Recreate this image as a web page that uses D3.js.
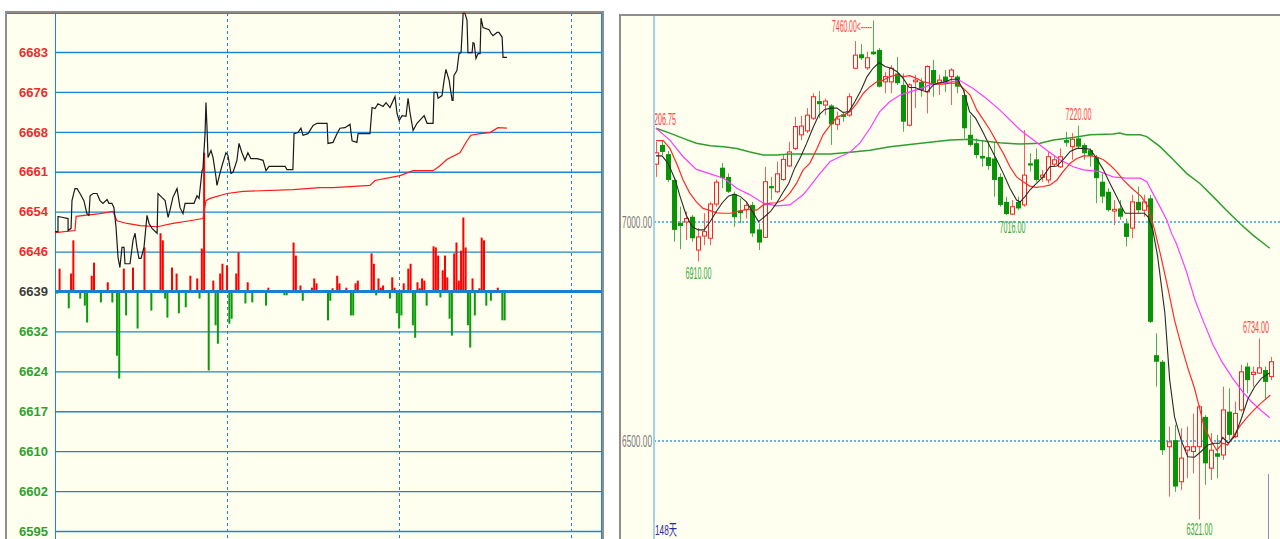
<!DOCTYPE html>
<html>
<head>
<meta charset="utf-8">
<script src="https://cdn.jsdelivr.net/npm/d3@7"></script>
<style>
  body { margin: 0; background: #ffffff; }
  svg { display: block; }
</style>
</head>
<body>
<script>
// -----------------------------
// Data: intraday panel
// -----------------------------

// Price ticks, equal steps around the previous settlement
const intradayTicks = [6683, 6675.67, 6668.33, 6661, 6653.67, 6646.33, 6639, 6631.67, 6624.33, 6617, 6609.67, 6602.33, 6595];
const intradayBase = 6639;
const intradayTimeGrid = [75, 150, 225];

// [minute, price]
const intradayPrice = [
  [0, 6650.0], [1.3, 6650.0], [1.3, 6652.8], [3.5, 6652.6], [5.7, 6652.4], [5.7, 6650.2], [7.0, 6650.6], [7.4, 6655.7],
  [8.7, 6657.9], [9.6, 6657.9], [10.9, 6657.0], [12.6, 6655.7], [13.9, 6653.3], [14.8, 6653.0], [15.3, 6656.6], [16.6, 6657.0],
  [18.3, 6657.0], [19.6, 6655.7], [20.9, 6655.2], [22.7, 6655.9], [23.5, 6655.2], [24.8, 6655.2], [25.7, 6654.4], [26.6, 6650.8],
  [27.5, 6645.2], [28.3, 6643.4], [29.2, 6647.1], [30.1, 6647.1], [30.5, 6644.1], [32.7, 6644.1], [34.0, 6648.4], [34.9, 6649.7],
  [35.7, 6647.1], [36.6, 6645.1], [37.5, 6645.1], [38.8, 6647.1], [40.1, 6653.0], [41.0, 6651.5], [42.3, 6650.6], [44.5, 6649.7],
  [44.9, 6657.0], [46.6, 6656.3], [48.0, 6655.7], [49.3, 6652.6], [50.1, 6653.9], [51.4, 6656.3], [53.2, 6657.9], [54.5, 6654.4],
  [55.8, 6653.3], [56.7, 6655.2], [60.6, 6655.2], [61.9, 6656.6], [62.8, 6656.1], [64.1, 6661.2], [64.5, 6661.6], [65.4, 6668.0],
  [65.8, 6673.7], [66.3, 6668.6], [66.7, 6663.6], [68.0, 6664.9], [68.9, 6663.6], [70.2, 6659.9], [70.6, 6658.5], [71.9, 6660.7],
  [72.8, 6662.1], [74.5, 6664.5], [75.4, 6664.0], [76.7, 6660.7], [77.6, 6660.9], [79.3, 6663.1], [80.2, 6666.2], [81.5, 6664.5],
  [82.8, 6663.1], [84.1, 6664.5], [85.4, 6663.4], [88.1, 6663.4], [90.7, 6663.1], [92.0, 6661.2], [93.3, 6662.0], [100.3, 6662.0],
  [101.1, 6661.4], [103.7, 6661.4], [104.2, 6668.0], [105.9, 6668.2], [107.2, 6669.0], [108.1, 6667.7], [110.3, 6668.0], [112.5, 6669.5],
  [114.2, 6669.9], [118.6, 6669.9], [119.0, 6666.2], [121.2, 6666.4], [122.9, 6668.0], [124.2, 6669.0], [126.4, 6669.1], [128.6, 6669.7],
  [129.5, 6666.7], [131.6, 6666.4], [132.1, 6668.0], [137.3, 6668.0], [138.2, 6672.8], [139.5, 6672.6], [140.8, 6673.5], [143.0, 6673.0],
  [144.3, 6673.7], [146.0, 6672.8], [148.2, 6674.8], [149.1, 6671.7], [150.0, 6670.4], [151.3, 6671.3], [153.0, 6671.2], [153.9, 6674.5],
  [154.8, 6671.7], [156.1, 6668.6], [157.8, 6669.9], [160.9, 6671.3], [162.2, 6669.9], [164.8, 6669.9], [165.2, 6675.6], [166.5, 6675.6],
  [167.0, 6674.5], [168.7, 6675.0], [169.6, 6677.8], [170.4, 6679.8], [171.8, 6677.8], [173.1, 6674.1], [173.5, 6674.1], [173.9, 6678.7],
  [175.2, 6679.6], [176.1, 6682.7], [177.0, 6682.9], [177.9, 6690.1], [178.7, 6690.1], [179.6, 6688.8], [180.0, 6682.9], [181.8, 6682.9],
  [182.2, 6684.7], [182.7, 6684.6], [183.5, 6681.8], [184.4, 6682.7], [185.3, 6682.7], [185.7, 6689.2], [186.6, 6687.5], [189.2, 6687.1],
  [190.1, 6686.4], [190.9, 6686.0], [192.7, 6686.6], [193.5, 6686.6], [194.9, 6685.7], [195.3, 6682.0], [197.0, 6682.0]
];

// [minute, average price]
const intradayAverage = [
  [0, 6649.8], [8.7, 6650.2], [9.2, 6652.8], [19.6, 6653.3], [25.3, 6653.7], [27.0, 6652.0], [31.4, 6651.5], [37.1, 6651.1],
  [44.5, 6650.9], [51.4, 6651.5], [58.8, 6652.0], [64.5, 6652.4], [65.8, 6655.7], [67.6, 6656.1], [75.0, 6657.0], [82.0, 6657.4],
  [103.7, 6657.7], [115.5, 6658.1], [121.2, 6658.1], [137.3, 6658.5], [139.5, 6659.4], [150.4, 6660.3], [156.1, 6661.2], [164.8, 6661.2],
  [167.8, 6662.1], [170.9, 6663.3], [176.5, 6664.5], [179.6, 6666.7], [181.3, 6667.7], [185.3, 6668.0], [189.6, 6668.2], [193.1, 6669.1],
  [197.0, 6669.0]
];

// [minute, change from base line]
const intradayBars = [
  [2, 4.2], [7, 3.3], [8, 9.4], [16, 2.9], [17, 5.3], [23, 1.7], [30, 4.2], [34, 4.4], [39, 8.1], [46, 10.7], [47, 9.4],
  [51, 4.4], [53, 3.3], [59, 2.9], [62, 2.4], [64, 7.9], [65, 25.5], [69, 2.0], [72, 3.3], [73, 5.1], [75, 4.8], [79, 3.3],
  [80, 7.2], [84, 1.7], [93, 0.7], [104, 9.0], [105, 6.6], [107, 1.1], [112, 0.7], [113, 2.4], [114, 1.5], [121, 0.6],
  [123, 2.9], [124, 1.5], [127, 0.7], [131, 1.5], [132, 2.0], [138, 7.0], [139, 5.1], [141, 2.4], [142, 0.7], [143, 1.1],
  [147, 2.6], [148, 0.7], [152, 1.5], [154, 4.2], [155, 5.1], [158, 1.7], [159, 0.6], [160, 2.4], [161, 2.0], [165, 8.3],
  [166, 8.1], [167, 6.6], [169, 3.9], [170, 6.6], [171, 2.6], [174, 7.0], [175, 9.0], [176, 2.0], [177, 7.5], [178, 13.6],
  [179, 8.1], [182, 2.4], [185, 0.6], [186, 9.9], [187, 9.4], [193, 0.7],
  [1, -0.4], [6, -3.1], [11, -1.3], [13, -2.6], [14, -5.7], [20, -2.0], [25, -2.0], [27, -11.8], [28, -16.0], [31, -4.4],
  [36, -6.8], [42, -3.5], [48, -1.3], [49, -4.8], [54, -4.0], [57, -2.9], [63, -1.3], [67, -14.5], [70, -6.2], [71, -9.6],
  [76, -5.9], [77, -5.0], [83, -2.2], [86, -2.0], [92, -2.6], [100, -0.7], [101, -0.7], [108, -1.7], [119, -5.3], [120, -1.7],
  [129, -4.4], [130, -4.4], [140, -0.7], [146, -1.3], [149, -4.0], [150, -6.8], [151, -4.4], [156, -6.2], [157, -8.5],
  [162, -2.6], [168, -1.1], [172, -5.0], [173, -8.1], [180, -6.2], [181, -10.3], [183, -4.4], [188, -2.6], [190, -1.7],
  [195, -5.3], [196, -5.3]
];

// -----------------------------
// Data: daily panel
// -----------------------------

// [open, high, low, close]
const dailyCandles = [
  [7132, 7183, 7103, 7158], [7176, 7187, 7153, 7160], [7155, 7162, 7091, 7096], [7096, 7100, 6955, 6982],
  [6998, 7035, 6938, 6991], [7000, 7024, 6959, 7008], [7012, 7016, 6955, 6963], [6936, 6986, 6910, 6966],
  [6968, 7020, 6947, 6978], [6963, 7046, 6947, 7041], [7041, 7097, 7035, 7091], [7124, 7135, 7077, 7100],
  [7103, 7111, 7066, 7069], [7064, 7069, 6989, 7011], [7026, 7054, 6997, 7020], [7029, 7046, 7008, 7038],
  [7039, 7046, 6966, 6974], [6983, 6997, 6936, 6953], [6965, 7126, 6963, 7092], [7082, 7103, 7050, 7077],
  [7069, 7138, 7066, 7110], [7097, 7153, 7094, 7143], [7128, 7183, 7126, 7160], [7168, 7240, 7164, 7218],
  [7199, 7242, 7187, 7219], [7208, 7260, 7203, 7244], [7237, 7294, 7233, 7286], [7276, 7299, 7237, 7269],
  [7267, 7282, 7244, 7276], [7266, 7269, 7176, 7223], [7223, 7252, 7210, 7235], [7246, 7252, 7229, 7240],
  [7244, 7294, 7240, 7286], [7351, 7413, 7349, 7381], [7383, 7406, 7370, 7374], [7352, 7389, 7347, 7375],
  [7389, 7460, 7381, 7383], [7393, 7397, 7307, 7309], [7320, 7343, 7294, 7332], [7320, 7358, 7294, 7351],
  [7339, 7377, 7313, 7317], [7313, 7339, 7206, 7229], [7221, 7317, 7218, 7313], [7320, 7336, 7260, 7324],
  [7320, 7328, 7286, 7301], [7297, 7358, 7248, 7355], [7347, 7370, 7286, 7313], [7317, 7336, 7290, 7324],
  [7332, 7347, 7297, 7317], [7332, 7351, 7267, 7347], [7332, 7336, 7294, 7309], [7290, 7301, 7191, 7214],
  [7199, 7244, 7172, 7176], [7180, 7191, 7145, 7153], [7151, 7187, 7126, 7145], [7148, 7183, 7119, 7128],
  [7145, 7183, 7058, 7096], [7103, 7111, 7035, 7039], [7046, 7058, 7016, 7018], [7018, 7050, 7016, 7035],
  [7046, 7058, 7027, 7031], [7039, 7210, 7035, 7107], [7134, 7157, 7115, 7129], [7143, 7168, 7092, 7096],
  [7102, 7119, 7092, 7107], [7096, 7160, 7088, 7149], [7132, 7153, 7126, 7142], [7126, 7168, 7123, 7149],
  [7187, 7206, 7172, 7181], [7172, 7203, 7142, 7189], [7191, 7220, 7168, 7172], [7176, 7180, 7142, 7157],
  [7164, 7168, 7126, 7151], [7148, 7153, 7043, 7100], [7092, 7111, 7043, 7058], [7069, 7077, 7024, 7027],
  [7025, 7050, 6993, 7029], [7031, 7050, 7005, 7012], [6997, 7008, 6944, 6966], [6986, 7062, 6963, 7046],
  [7046, 7081, 7020, 7027], [7027, 7062, 7012, 7046], [7054, 7062, 6769, 6772], [6696, 6746, 6624, 6681],
  [6681, 6685, 6468, 6479], [6487, 6533, 6373, 6498], [6502, 6537, 6384, 6396], [6407, 6529, 6388, 6461],
  [6479, 6533, 6415, 6487], [6476, 6563, 6426, 6487], [6487, 6582, 6321, 6578], [6555, 6559, 6400, 6449],
  [6438, 6518, 6411, 6479], [6472, 6514, 6415, 6464], [6468, 6624, 6457, 6571], [6567, 6620, 6502, 6514],
  [6510, 6590, 6506, 6563], [6571, 6674, 6567, 6658], [6670, 6679, 6609, 6639], [6652, 6670, 6624, 6657],
  [6655, 6734, 6653, 6667], [6662, 6670, 6594, 6635], [6647, 6692, 6639, 6681]
];

// Moving averages: [bar index, value]
const ma5 = [
  [0, 7151], [1, 7151], [2, 7134], [3.2, 7096], [4, 7058], [5, 7016], [6, 6989], [7, 6982], [8, 6982], [9, 7001],
  [10, 7024], [11, 7044], [12, 7059], [13, 7064], [14, 7058], [15, 7046], [16, 7024], [17, 7001], [18, 7012], [19, 7024],
  [20, 7043], [21, 7066], [22, 7088], [23, 7123], [24, 7149], [25, 7180], [26, 7214], [27, 7244], [28, 7257], [29, 7260],
  [30, 7260], [31, 7250], [32, 7252], [33, 7275], [34, 7301], [35, 7332], [36, 7351], [37, 7364], [38, 7355], [39, 7351],
  [40, 7343], [41, 7328], [42, 7307], [43, 7307], [44, 7301], [45, 7297], [46, 7313], [47, 7318], [48, 7320], [49, 7326],
  [50, 7326], [51, 7301], [52, 7252], [53, 7237], [54.3, 7203], [55.4, 7172], [56.5, 7142], [57.6, 7111], [58.7, 7077],
  [59.8, 7050], [60.4, 7046], [61.2, 7058], [62, 7073], [63.1, 7088], [64.2, 7103], [65.3, 7126], [66.5, 7128], [67.5, 7142],
  [68.7, 7161], [69.8, 7168], [70.9, 7168], [72, 7166], [73.1, 7145], [74.2, 7119], [75.3, 7088], [76.4, 7058], [77.2, 7035],
  [77.8, 7020], [79.4, 7020], [81, 7020], [81.6, 7012], [82.4, 6982], [83.2, 6921], [84.4, 6792], [85.2, 6639], [86, 6555],
  [87.1, 6502], [88.2, 6464], [89.3, 6463], [90.4, 6476], [91.5, 6491], [92.6, 6495], [93.5, 6495], [94, 6508], [94.9, 6495],
  [96, 6511], [97.1, 6552], [98.2, 6597], [99.3, 6624], [100.4, 6643], [101.8, 6656]
];
const ma10 = [
  [0, 7186], [1.2, 7186], [2.3, 7168], [3.4, 7134], [4.5, 7096], [5.6, 7066], [6.7, 7046], [7.8, 7031], [9, 7026], [10.1, 7021],
  [11.2, 7020], [12.3, 7020], [13.4, 7024], [14.5, 7027], [15.6, 7029], [16.7, 7027], [17.8, 7039], [18.9, 7043], [20, 7044],
  [21.1, 7050], [22.2, 7066], [23.3, 7088], [24.4, 7119], [25.5, 7134], [26.7, 7168], [27.7, 7199], [28.9, 7221], [30, 7240],
  [31.1, 7244], [32.2, 7252], [33.3, 7271], [34.4, 7294], [35.5, 7309], [36.6, 7320], [37.7, 7324], [38.8, 7332], [39.9, 7336],
  [41, 7332], [42.1, 7334], [43.2, 7328], [44.3, 7320], [45.4, 7317], [46.5, 7315], [47.6, 7315], [48.8, 7317], [49.9, 7317],
  [51, 7305], [52.1, 7290], [53.2, 7256], [54.3, 7233], [55.4, 7210], [56.5, 7183], [57.6, 7157], [58.7, 7126], [59.8, 7103],
  [60.9, 7092], [62, 7082], [63.1, 7079], [64.2, 7081], [65.3, 7084], [66.5, 7096], [67.5, 7115], [68.7, 7134], [69.8, 7145],
  [70.9, 7151], [72, 7151], [73.1, 7149], [74.2, 7142], [75.3, 7130], [76.4, 7115], [77.5, 7096], [78.6, 7081], [80.5, 7058],
  [81.6, 7035], [82.7, 6982], [83.8, 6918], [84.9, 6849], [86, 6776], [87.1, 6719], [88.2, 6667], [89.3, 6621], [90.1, 6578],
  [90.9, 6533], [92, 6502], [93, 6479], [94, 6495], [94.8, 6491], [95.9, 6514], [97, 6537], [98.1, 6555], [99.2, 6571],
  [100.3, 6586], [101.9, 6605]
];
const ma20 = [
  [0, 7214], [2.3, 7187], [4.5, 7149], [6.7, 7120], [9, 7110], [11.2, 7100], [13.4, 7077], [15.6, 7062], [17.8, 7043], [20, 7037],
  [22.2, 7039], [24.4, 7062], [25.5, 7081], [27.2, 7111], [28.9, 7138], [30.5, 7149], [32.2, 7160], [33.8, 7180], [35.5, 7214],
  [37.1, 7252], [38.8, 7275], [40.5, 7290], [42.1, 7297], [43.8, 7304], [45.4, 7313], [47.1, 7317], [48.8, 7320], [50.4, 7323],
  [52.6, 7305], [54.8, 7282], [57, 7256], [59.3, 7225], [60.4, 7210], [62.6, 7187], [64.8, 7164], [67, 7142], [69.2, 7126],
  [70.9, 7119], [73.6, 7115], [75.8, 7103], [78, 7100], [80.3, 7100], [81.4, 7092], [83, 7050], [84.7, 7005], [85.5, 6974],
  [86.3, 6951], [87.9, 6890], [89.4, 6822], [90.7, 6776], [92.4, 6719], [93.9, 6680], [95.6, 6644], [97.3, 6612], [98.8, 6589],
  [100.4, 6569], [101.8, 6553]
];
const ma60 = [
  [0, 7214], [2.3, 7203], [4.5, 7191], [6.7, 7180], [9, 7174], [11.2, 7172], [13.4, 7168], [15.6, 7160], [17.8, 7153], [20, 7153],
  [22.2, 7155], [25.5, 7155], [28.9, 7155], [32.2, 7159], [35.5, 7164], [38.8, 7172], [42.1, 7177], [45.4, 7182], [48.8, 7187],
  [52.1, 7189], [53.7, 7186], [57, 7181], [60.4, 7178], [63.7, 7180], [65.9, 7187], [69.2, 7193], [72, 7199], [75.8, 7201],
  [76.9, 7203], [78, 7199], [80.3, 7199], [81.4, 7195], [83.6, 7172], [85.8, 7142], [88, 7111], [90.2, 7088], [92.4, 7058],
  [94.6, 7027], [96.8, 6997], [99, 6970], [101.8, 6940]
];

const dailyTicks = [7000, 6500];
const highLabelIndex = [36, 70, 100];
const lowLabelIndex = [7, 59, 90];
const firstMaValue = 7206.75;
const periodLabel = "148天";
const cursorIndex = 101.5;

// -----------------------------
// SVG Setup
// -----------------------------

const WIDTH = 1280;
const HEIGHT = 539;
const FONT = "'Liberation Sans', Arial, sans-serif";
const CREAM = "#fffff0";

const svg = d3.select("body")
  .append("svg")
  .attr("width", WIDTH)
  .attr("height", HEIGHT)
  .attr("viewBox", `0 0 ${WIDTH} ${HEIGHT}`);

// Squeeze a text horizontally to a target width (narrow chart font look)
function condensedText(parent, str, x, y, width, anchor, color, size = 16, family = FONT) {
  const t = parent.append("text")
    .attr("font-family", family)
    .attr("font-size", size)
    .attr("text-anchor", anchor)
    .attr("fill", color)
    .text(str);
  const natural = t.node().getComputedTextLength() || width;
  t.attr("transform", `translate(${x},${y}) scale(${width / natural},1)`);
  return t;
}

// -----------------------------
// Intraday panel (left)
// -----------------------------

function drawIntraday(svg) {
  const LEFT = 55;
  const RIGHT = 601;
  const TOP = 13;
  const GRID_BLUE = "#1d86d3";

  const x = d3.scaleLinear().domain([0, 238]).range([LEFT, RIGHT]);
  const y = d3.scaleLinear().domain([6595, 6683]).range([531, 52]);

  const g = svg.append("g").attr("id", "intraday");

  // Frame and background
  g.append("rect")
    .attr("x", 6).attr("y", 12)
    .attr("width", 597).attr("height", 540)
    .attr("fill", CREAM)
    .attr("stroke", "#8e8e8e")
    .attr("stroke-width", 2);

  g.append("line")
    .attr("x1", 7).attr("x2", 602)
    .attr("y1", TOP + 0.5).attr("y2", TOP + 0.5)
    .attr("stroke", GRID_BLUE);

  // Price grid + labels through a left axis
  const axis = d3.axisLeft(y)
    .tickValues(intradayTicks)
    .tickFormat(d3.format("d"))
    .tickSize(-(RIGHT - LEFT))
    .tickPadding(7);

  const axisG = g.append("g")
    .attr("transform", `translate(${LEFT},0)`)
    .call(axis);

  axisG.select(".domain").remove();
  axisG.selectAll(".tick line")
    .attr("stroke", GRID_BLUE)
    .attr("stroke-width", d => d === intradayBase ? 0 : 1.3);
  axisG.selectAll(".tick text")
    .attr("font-family", FONT)
    .attr("font-size", 13)
    .attr("font-weight", "bold")
    .attr("fill", d => {
      if (Math.abs(d - intradayBase) < 0.01) return "#3c3c3c";
      return d > intradayBase ? "#f02a2a" : "#2e9f2e";
    });

  // Time grid (dashed)
  g.selectAll("line.time-grid")
    .data(intradayTimeGrid)
    .enter()
    .append("line")
    .attr("class", "time-grid")
    .attr("x1", d => Math.round(x(d)) + 0.5)
    .attr("x2", d => Math.round(x(d)) + 0.5)
    .attr("y1", TOP)
    .attr("y2", HEIGHT)
    .attr("stroke", GRID_BLUE)
    .attr("stroke-dasharray", "3,3");

  // Plot borders
  [LEFT, RIGHT].forEach(px => {
    g.append("line")
      .attr("x1", px + 0.5).attr("x2", px + 0.5)
      .attr("y1", TOP).attr("y2", HEIGHT)
      .attr("stroke", GRID_BLUE);
  });

  // Bars around the base line
  const base = y(intradayBase);
  g.append("g")
    .selectAll("rect")
    .data(intradayBars)
    .enter()
    .append("rect")
    .attr("x", d => x(d[0]) - 1)
    .attr("width", 2)
    .attr("y", d => d[1] > 0 ? y(intradayBase + d[1]) : base)
    .attr("height", d => Math.abs(y(intradayBase + d[1]) - base))
    .attr("fill", d => d[1] > 0 ? "#ff0000" : "#0a9a0a");

  // Thick base line
  g.append("line")
    .attr("x1", LEFT).attr("x2", RIGHT + 1)
    .attr("y1", base).attr("y2", base)
    .attr("stroke", "#1a7fd0")
    .attr("stroke-width", 3);

  const line = d3.line()
    .x(d => x(d[0]))
    .y(d => y(d[1]));

  g.append("path")
    .datum(intradayAverage)
    .attr("d", line)
    .attr("fill", "none")
    .attr("stroke", "#ff1a1a")
    .attr("stroke-width", 1.2);

  g.append("path")
    .datum(intradayPrice)
    .attr("d", line)
    .attr("fill", "none")
    .attr("stroke", "#1a1a1a")
    .attr("stroke-width", 1.2);
}

drawIntraday(svg);

// -----------------------------
// Daily candlestick panel (right)
// -----------------------------

function drawDaily(svg) {
  const AXIS_X = 654;
  const TOP = 15;

  const x = d3.scaleLinear().domain([0, 102]).range([656, 1271]);
  const y = d3.scaleLinear().domain([6500, 7000]).range([441, 222]);
  const fmt = d3.format(".2f");

  const g = svg.append("g").attr("id", "daily");

  g.append("rect")
    .attr("x", 620).attr("y", TOP)
    .attr("width", 700).attr("height", 540)
    .attr("fill", CREAM)
    .attr("stroke", "#8e8e8e")
    .attr("stroke-width", 2);

  g.append("defs")
    .append("clipPath")
    .attr("id", "daily-clip")
    .append("rect")
    .attr("x", AXIS_X + 1).attr("y", TOP + 1)
    .attr("width", WIDTH - AXIS_X).attr("height", HEIGHT - TOP);

  // Dotted price levels
  g.selectAll("line.level")
    .data(dailyTicks)
    .enter()
    .append("line")
    .attr("class", "level")
    .attr("x1", AXIS_X).attr("x2", WIDTH)
    .attr("y1", d => y(d)).attr("y2", d => y(d))
    .attr("stroke", "#3c9ad6")
    .attr("stroke-width", 1.6)
    .attr("stroke-dasharray", "2,2");

  dailyTicks.forEach(v => {
    condensedText(g, fmt(v), AXIS_X - 2, y(v) + 6, 30, "end", "#7a7a7a");
  });

  const plot = g.append("g").attr("clip-path", "url(#daily-clip)");

  // Candles
  const up = d => d[3] >= d[0];
  const cx = i => Math.round(x(i));

  plot.append("g")
    .selectAll("line")
    .data(dailyCandles)
    .enter()
    .append("line")
    .attr("x1", (d, i) => cx(i) + 0.5)
    .attr("x2", (d, i) => cx(i) + 0.5)
    .attr("y1", d => y(d[1]))
    .attr("y2", d => y(d[2]))
    .attr("stroke", d => up(d) ? "#ff5a5a" : "#4fb04f");

  plot.append("g")
    .selectAll("rect")
    .data(dailyCandles)
    .enter()
    .append("rect")
    .attr("x", (d, i) => up(d) ? cx(i) - 1.5 : cx(i) - 2)
    .attr("y", d => y(Math.max(d[0], d[3])))
    .attr("width", d => up(d) ? 4 : 5)
    .attr("height", d => Math.max(1, Math.abs(y(d[0]) - y(d[3]))))
    .attr("fill", d => up(d) ? CREAM : "#079507")
    .attr("stroke", d => up(d) ? "#ff2020" : "none");

  // Moving averages
  const line = d3.line()
    .x(d => x(d[0]))
    .y(d => y(d[1]));

  const series = [
    { data: ma60, color: "#2f9e2f", width: 1.5 },
    { data: ma20, color: "#ff3cff", width: 1.2 },
    { data: ma10, color: "#ff2a2a", width: 1.2 },
    { data: ma5, color: "#2a2a2a", width: 1.1 }
  ];

  plot.selectAll("path.ma")
    .data(series)
    .enter()
    .append("path")
    .attr("class", "ma")
    .attr("d", d => line(d.data))
    .attr("fill", "none")
    .attr("stroke", d => d.color)
    .attr("stroke-width", d => d.width);

  // First MA value at the left edge (its first digit hides behind the axis)
  condensedText(plot, fmt(firstMaValue), AXIS_X + 22, y(firstMaValue) - 6, 26, "end", "#ff4040");

  // High / low markers
  const topLimit = TOP + 20;
  const labelX = i => Math.min(cx(i) + 0.5, WIDTH - 24);

  highLabelIndex.forEach(i => {
    const v = dailyCandles[i][1];
    if (y(v) < topLimit) {
      condensedText(plot, fmt(v) + "<-----", cx(i) - 1, y(v) + 11, 40, "end", "#ff4545");
    } else {
      condensedText(plot, fmt(v), labelX(i), y(v) - 6, 26, "middle", "#ff4545");
    }
  });

  lowLabelIndex.forEach(i => {
    const v = dailyCandles[i][2];
    const baseline = Math.min(y(v) + 18, HEIGHT - 4);
    condensedText(plot, fmt(v), labelX(i), baseline, 26, "middle", "#3aa83a");
  });

  // Cursor stub at the bottom right
  plot.append("line")
    .attr("x1", Math.round(x(cursorIndex)) + 0.5)
    .attr("x2", Math.round(x(cursorIndex)) + 0.5)
    .attr("y1", 474).attr("y2", HEIGHT)
    .attr("stroke", "#8a8ac8");

  // Left axis line
  g.append("line")
    .attr("x1", AXIS_X).attr("x2", AXIS_X)
    .attr("y1", TOP + 1).attr("y2", HEIGHT)
    .attr("stroke", "#a6d3e2")
    .attr("stroke-width", 2);

  // Period label
  condensedText(g, periodLabel, AXIS_X + 1, 535, 22, "start", "#2a2aa0", 15,
    "'Liberation Sans', 'Noto Sans CJK SC', sans-serif");
}

drawDaily(svg);
</script>
</body>
</html>
